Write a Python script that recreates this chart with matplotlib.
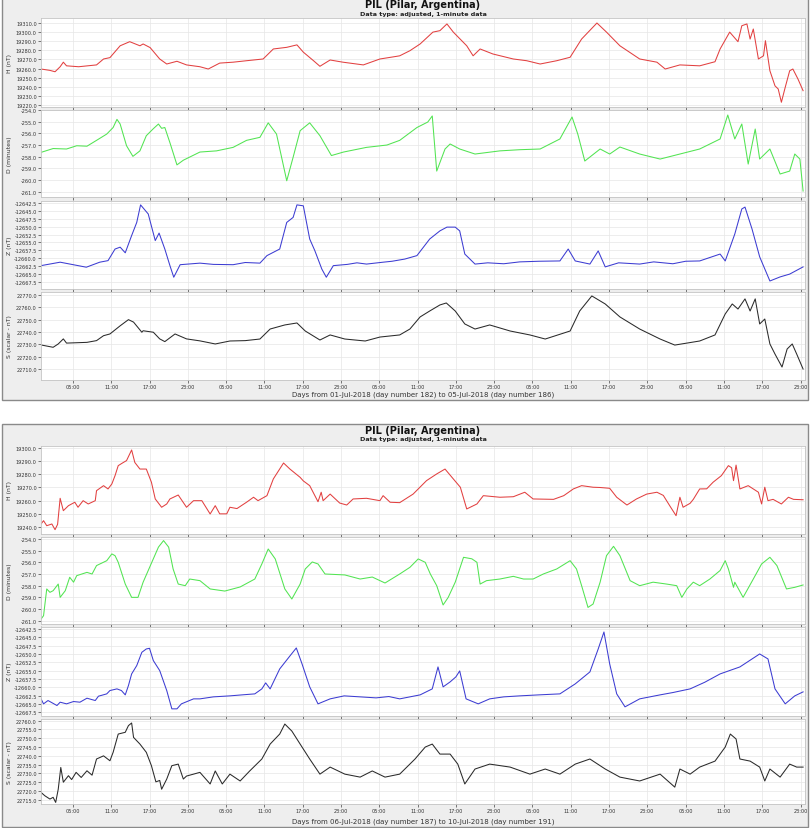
import matplotlib
matplotlib.use('Agg')
import matplotlib.pyplot as plt
from matplotlib.patches import Rectangle
from matplotlib.ticker import FormatStrFormatter
import numpy as np

plt.rcParams['axes.unicode_minus'] = False
plt.rcParams['font.family'] = ['DejaVu Sans']

W, H = 811, 829

# eixo x: horas a partir do primeiro dia
xticks = [5 + 6 * i for i in range(20)]
xtick_labels = ['05:00', '11:00', '17:00', '23:00'] * 5

title = 'PIL (Pilar, Argentina)'
subtitle = 'Data type: adjusted, 1-minute data'
xlabel_1 = 'Days from 01-Jul-2018 (day number 182) to 05-Jul-2018 (day number 186)'
xlabel_2 = 'Days from 06-Jul-2018 (day number 187) to 10-Jul-2018 (day number 191)'
ylabels = ['H (nT)', 'D (minutes)', 'Z (nT)', 'S (scalar - nT)']

## 01-05 jul (hora, valor)
h1 = [(0, 19259.5), (1.4, 19258), (2.2, 19256.5), (3, 19262), (3.5, 19267), (4, 19263), (5.9, 19262),
      (8.7, 19264), (9.8, 19270.5), (10.8, 19272), (12.4, 19285), (13.9, 19289.5), (15.5, 19285),
      (16, 19287), (17.1, 19283), (18.6, 19270.5), (19.7, 19265), (21.3, 19268), (22.8, 19264),
      (24.9, 19262), (26.2, 19259.5), (28, 19266), (30.1, 19267), (32.2, 19268.6), (34.8, 19270.5),
      (36.4, 19281.5), (38.5, 19283.3), (40.1, 19286), (41.1, 19278), (42.7, 19268.6), (43.7, 19262.5),
      (45.3, 19269.4), (47.3, 19267), (50.5, 19264), (53.1, 19270.5), (55.7, 19273.4), (56.2, 19274),
      (57.8, 19279.6), (59.4, 19287), (61.4, 19300), (62.5, 19301.6), (63.6, 19309), (64.6, 19300),
      (66.7, 19285), (67.7, 19274), (68.8, 19281.5), (70.8, 19276), (74, 19270.5), (76.1, 19268.6),
      (78.2, 19265), (80.8, 19268.6), (82.9, 19272.4), (84.7, 19292.4), (87.1, 19310), (88.6, 19300),
      (90.7, 19285), (93.8, 19270.5), (96.5, 19267), (97.8, 19259.5), (100.1, 19264), (103.2, 19263),
      (105.6, 19267.5), (106.4, 19281.5), (107.9, 19300), (109.2, 19289.5), (109.8, 19307),
      (110.6, 19309), (111.1, 19292.4), (111.6, 19303.4), (112.4, 19270.5), (113.2, 19274),
      (113.5, 19290.6), (114.2, 19257.6), (115, 19241), (115.5, 19237.6), (116, 19223),
      (116.6, 19239.4), (117.3, 19257.6), (117.8, 19259.5), (118.6, 19248.5), (119.4, 19235.7)]

d1 = [(0, -257.63), (1.9, -257.3), (4, -257.34), (5.6, -257.06), (7.2, -257.1), (8.7, -256.6),
      (10.3, -256.06), (11.3, -255.5), (11.9, -254.8), (12.4, -255.2), (13.4, -257.06), (14.4, -257.97),
      (15.5, -257.5), (16.5, -256.2), (17.6, -255.6), (18.4, -255.2), (18.9, -255.57), (19.4, -255.5),
      (20.2, -256.8), (21.3, -258.7), (22.3, -258.3), (24.9, -257.6), (27.5, -257.5), (30.1, -257.2),
      (32.2, -256.6), (34.3, -256.34), (35.6, -255.1), (36.9, -256.06), (38.5, -260.06), (39.5, -258.05),
      (40.6, -255.77), (42.1, -255.1), (43.7, -256.2), (45.5, -257.9), (47.4, -257.6), (51, -257.2),
      (54.2, -257.0), (56.2, -256.6), (58.9, -255.5), (60.6, -255.03), (61.3, -254.51), (62.0, -259.23),
      (63.3, -257.34), (64.1, -256.91), (65.6, -257.34), (68.0, -257.77), (71.9, -257.5), (75, -257.4),
      (78.2, -257.34), (81.3, -256.48), (83.2, -254.6), (84.1, -256.06), (85.2, -258.37), (87.6, -257.34),
      (89.1, -257.77), (90.7, -257.17), (93.8, -257.77), (97, -258.2), (100.1, -257.77), (103.2, -257.34),
      (106.4, -256.48), (107.6, -254.43), (108.7, -256.48), (109.8, -255.2), (110.8, -258.63),
      (111.9, -255.63), (112.6, -258.2), (114.2, -257.34), (115.8, -259.48), (117.3, -259.23),
      (118.1, -257.77), (118.9, -258.2), (119.4, -260.94)]

z1 = [(0, -12662.4), (3, -12661.3), (7.1, -12662.9), (9.2, -12661.3), (10.5, -12660.8), (11.6, -12657.1),
      (12.4, -12656.5), (13.2, -12658.3), (14.2, -12652.8), (15, -12648.6), (15.6, -12643.0),
      (16.8, -12645.9), (17.9, -12654.4), (18.5, -12652.0), (19.4, -12657.1), (20.2, -12662.4),
      (20.8, -12666.1), (21.8, -12662.1), (24.9, -12661.6), (27, -12662.0), (30.1, -12662.1),
      (32, -12661.4), (34.3, -12661.6), (35.4, -12659.2), (37.4, -12657.1), (38.5, -12648.6),
      (39.5, -12647.0), (40.1, -12643.0), (41.1, -12643.3), (42.1, -12653.9), (42.9, -12657.6),
      (44, -12663.5), (44.7, -12666.1), (45.8, -12662.4), (48, -12662.0), (49.5, -12661.5),
      (51, -12661.9), (53.6, -12661.3), (55, -12661.0), (57, -12660.3), (58.9, -12659.2),
      (60.9, -12653.9), (62.5, -12651.3), (63.6, -12650.1), (64.9, -12650.1), (65.6, -12651.3),
      (66.4, -12658.7), (68.0, -12661.9), (70, -12661.5), (72.5, -12661.8), (75, -12661.2),
      (78, -12661.0), (81.3, -12660.9), (82.6, -12657.1), (83.7, -12660.9), (86, -12661.9),
      (87.3, -12657.7), (88.4, -12662.8), (90.5, -12661.5), (93.8, -12661.9), (96, -12661.2),
      (99, -12661.8), (101, -12661.0), (103.2, -12660.9), (106.4, -12658.7), (107.2, -12660.9),
      (108.7, -12652.3), (109.8, -12644.3), (110.3, -12643.7), (111.4, -12650.7), (112.6, -12659.6),
      (114.2, -12667.3), (115.8, -12666), (117.3, -12665.1), (119.4, -12662.8)]

s1 = [(0, 22729.5), (1.9, 22727.6), (2.7, 22730.3), (3.5, 22734.4), (4, 22731), (7.2, 22731.6),
      (8.7, 22733), (9.8, 22737), (10.8, 22738.4), (12.4, 22745), (13.7, 22750), (14.5, 22748),
      (15.8, 22739.8), (16, 22741), (17.6, 22739.8), (18.6, 22734.4), (19.4, 22732.2), (21, 22738.4),
      (22.8, 22734.4), (24.9, 22732.8), (27.3, 22730.3), (29.6, 22732.7), (32, 22733.0), (34.3, 22734.3),
      (35.9, 22742.4), (38.2, 22745.7), (40.1, 22747.3), (41.4, 22740.8), (43.7, 22733.5),
      (45.3, 22737.6), (47.6, 22734.3), (50.8, 22732.7), (53.1, 22735.9), (56.2, 22737.6),
      (57.8, 22742.4), (59.4, 22752.2), (60.9, 22757), (62.5, 22761.9), (63.5, 22763.5), (64.9, 22757),
      (66.4, 22746.5), (68, 22742.4), (70.3, 22745.7), (73.5, 22740.8), (76.6, 22737.6), (79, 22734.3),
      (82.9, 22740.8), (84.4, 22757), (86.3, 22769.2), (88.4, 22762.7), (90.7, 22752.2), (93.8, 22742.4),
      (97, 22734.3), (99.3, 22729.4), (103.2, 22732.7), (105.6, 22737.6), (107.2, 22754.6),
      (108.3, 22762.7), (109.2, 22758.6), (110.3, 22766.8), (111.1, 22757), (111.9, 22766.8),
      (112.6, 22746.5), (113.4, 22750.5), (114.2, 22730.3), (115, 22722.1), (116.1, 22711.6),
      (116.9, 22726.2), (117.7, 22730.3), (118.4, 22722.1), (119.4, 22710)]

## 06-10 jul
h2 = [(0, 19242.3), (0.4, 19244.8), (0.9, 19241), (1.7, 19242.3), (2.2, 19238), (2.6, 19242),
      (3, 19261.8), (3.5, 19252.4), (4.3, 19256.2), (5.3, 19258.8), (5.8, 19255), (6.6, 19260),
      (7.4, 19257.5), (8.5, 19260), (8.7, 19267.6), (9.8, 19271.4), (10.5, 19268.9), (11.1, 19272.7),
      (11.6, 19279), (12.1, 19286.6), (12.9, 19289), (13.4, 19290.4), (14.2, 19298.5), (14.7, 19289),
      (15.5, 19284), (16.5, 19284), (17.3, 19274), (17.9, 19261.3), (18.9, 19255), (19.7, 19257.5),
      (20.2, 19261.3), (21.5, 19264.3), (22.8, 19255), (23.9, 19260), (25.2, 19260), (26.5, 19249.9),
      (27.3, 19256.2), (28, 19250), (29.1, 19250), (29.6, 19255), (30.7, 19254), (32.2, 19258.8),
      (33.3, 19262.6), (34, 19260), (35.4, 19263.8), (36.4, 19276.5), (38, 19288.6), (39, 19284),
      (40.6, 19277.7), (41.1, 19275), (42.1, 19271.4), (43.4, 19259.2), (43.9, 19266.4), (44.2, 19260),
      (45.3, 19265), (46.8, 19258.2), (47.9, 19256.7), (48.9, 19261.3), (51, 19261.8), (53.1, 19260),
      (53.6, 19263.8), (54.7, 19258.8), (56.2, 19258.5), (58.3, 19265), (60.4, 19275.2), (62, 19280.3),
      (63.3, 19284), (64.6, 19276.5), (65.7, 19270.2), (66.7, 19253.7), (68.3, 19257.5), (69.3, 19263.8),
      (71.9, 19262.6), (74, 19263), (75.8, 19266.4), (77.1, 19261.3), (80.3, 19261), (81.9, 19263.8),
      (83.4, 19268.9), (84.7, 19271.4), (86.5, 19270.2), (87.6, 19270), (89.1, 19269.4), (90.2, 19262.6),
      (91.8, 19256.7), (93.3, 19261.3), (94.9, 19265), (96.5, 19266.4), (97.5, 19264), (98.5, 19256.2),
      (99.5, 19248.6), (100.1, 19262.6), (100.6, 19255), (101.7, 19258), (102.2, 19261),
      (103.2, 19268.9), (104.3, 19269), (105.3, 19274), (106.6, 19279), (107.7, 19286.6), (108.2, 19285),
      (108.5, 19275.2), (108.9, 19287), (109.5, 19268.9), (110.8, 19271.4), (112.4, 19266.4),
      (112.9, 19257.5), (113.4, 19270.2), (113.9, 19260), (114.7, 19261), (116, 19257.5),
      (117.1, 19262.6), (117.9, 19261), (119.4, 19260.7)]

d2 = [(0, -260.86), (0.4, -260.57), (0.9, -258.28), (1.4, -258.57), (1.9, -258.43), (2.7, -257.86),
      (3, -259), (3.8, -258.43), (4.5, -257.28), (5.1, -257.7), (5.6, -257.14), (7.2, -256.86), (8, -257),
      (8.7, -256.28), (10.3, -255.86), (11.1, -255.28), (11.6, -255.43), (12.1, -256), (13.2, -257.86),
      (14.2, -259), (15.2, -259), (16, -257.7), (17.6, -255.7), (18.4, -254.7), (19.2, -254.14),
      (20, -254.7), (20.7, -256.57), (21.5, -257.86), (22.6, -258), (23.3, -257.43), (24.9, -257.57),
      (26.5, -258.28), (28.8, -258.46), (31.2, -258.11), (33.5, -257.43), (34.6, -256.14),
      (35.6, -254.86), (36.7, -255.71), (38.2, -258.28), (39.3, -259.14), (40.6, -257.86),
      (41.4, -256.57), (42.5, -255.97), (43.4, -256.14), (44.5, -257), (47.6, -257.08), (50, -257.43),
      (51.9, -257.26), (53.9, -257.77), (56.2, -257.0), (57.8, -256.43), (59.1, -255.71), (60.2, -256),
      (61, -257), (62, -258), (63, -259.65), (63.8, -259), (64.9, -257.7), (66.2, -255.57),
      (67.5, -255.7), (68.3, -256), (68.8, -257.86), (69.8, -257.57), (71.9, -257.43), (74, -257.2),
      (75.6, -257.43), (77.1, -257.43), (78.7, -257), (80.8, -256.57), (82.9, -255.86), (83.9, -256.57),
      (84.7, -258), (85.7, -259.86), (86.5, -259.57), (87.6, -257.7), (88.6, -255.43), (89.7, -254.63),
      (90.7, -255.43), (92.3, -257.57), (93.8, -258), (95.9, -257.7), (98, -257.86), (99.6, -258),
      (100.4, -259), (101.2, -258.28), (102.2, -257.7), (103.2, -258), (104.8, -257.43), (106.4, -256.7),
      (107.2, -255.86), (107.7, -256.57), (108.5, -258.14), (108.7, -257.7), (110, -259),
      (111.6, -257.43), (112.9, -256.14), (114.2, -255.57), (115.3, -256.28), (116.8, -258.28),
      (118.1, -258.14), (119.4, -257.94)]

z2 = [(0, -12663.5), (0.4, -12665), (1.1, -12664), (2.5, -12665.5), (3, -12664.5), (4, -12665),
      (5.1, -12664.3), (6.1, -12664.5), (7.2, -12663.3), (8.5, -12664), (9, -12662.7), (10.3, -12662),
      (10.8, -12661), (11.9, -12660.5), (12.6, -12661), (13.2, -12662.3), (13.7, -12659.5),
      (14.2, -12656), (15, -12653.5), (15.8, -12649.5), (16.5, -12648.5), (17, -12648.3),
      (17.6, -12652), (18.6, -12655), (19.7, -12661), (20.5, -12666.5), (21.3, -12666.5), (22, -12665),
      (23.9, -12663.5), (24.9, -12663.5), (27, -12662.9), (29.6, -12662.6), (31.5, -12662.3),
      (33.5, -12662), (34.6, -12660.5), (35.2, -12658.7), (35.9, -12660.5), (37.4, -12654.5),
      (39, -12650.6), (40, -12648.2), (40.9, -12653), (42.1, -12659.9), (43.4, -12665), (45.3, -12663.5),
      (47.5, -12662.6), (50, -12662.9), (52.5, -12663.2), (54.5, -12662.8), (56.2, -12663.5),
      (59.4, -12662.3), (61.3, -12660.5), (62.2, -12653.9), (63, -12659.9), (64.1, -12658.4),
      (65, -12656.9), (65.6, -12655.1), (66.6, -12663.5), (68.5, -12665), (70.3, -12663.5),
      (72.5, -12662.9), (75, -12662.6), (78, -12662.3), (81.3, -12662), (83.7, -12659), (86, -12655.4),
      (87.3, -12648.5), (88.2, -12643.4), (89.1, -12653), (90.2, -12662), (91.5, -12665.9),
      (93.8, -12663.5), (97, -12662.3), (99, -12661.6), (101.7, -12660.5), (104, -12658.5),
      (106.4, -12656), (109.5, -12653.9), (112.6, -12650), (113.9, -12651.5), (115, -12660.5),
      (116.6, -12665), (118.1, -12662.6), (119.4, -12661.4)]

s2 = [(0, 22719.2), (0.6, 22717.3), (1.4, 22715.4), (1.9, 22716.4), (2.3, 22713.5), (2.7, 22721),
      (3.1, 22733.4), (3.5, 22725), (4.3, 22728.7), (4.8, 22726.5), (5.5, 22730.6), (6.3, 22727.7),
      (7.2, 22731.5), (8, 22729), (8.7, 22738.2), (9.8, 22740), (10.8, 22737.2), (11.3, 22742),
      (12.1, 22752.4), (13.2, 22753.4), (13.7, 22757.2), (14.2, 22758.7), (14.5, 22750.5),
      (15.5, 22746.7), (16.5, 22742), (17.3, 22734.4), (18, 22725.2), (18.6, 22726), (18.9, 22721),
      (19.7, 22726.8), (20.5, 22734.4), (21.5, 22735.3), (22.3, 22726.8), (22.8, 22728.5),
      (23.9, 22729.6), (24.9, 22730.6), (26.5, 22724), (27.3, 22731.4), (28.4, 22724), (29.6, 22729.6),
      (31.2, 22725.7), (32.7, 22731.4), (34.6, 22738.2), (35.9, 22746.7), (37.4, 22752.4),
      (38.2, 22758.1), (39.3, 22754.1), (40.6, 22746.7), (42.1, 22738.2), (43.7, 22729.6),
      (45.3, 22733.6), (47.6, 22729.6), (50, 22727.9), (51.9, 22731.4), (53.9, 22727.9), (56.2, 22729.6),
      (58.6, 22738.2), (60.2, 22745), (61.3, 22746.7), (62.5, 22741), (64.1, 22741), (65.3, 22735.3),
      (66.4, 22724), (68, 22732.5), (70.3, 22735.3), (73.5, 22733.6), (76.6, 22729.6), (79, 22732.5),
      (81.3, 22729.6), (83.7, 22735.3), (86, 22738.2), (88.4, 22732.5), (90.7, 22727.9), (93.8, 22725.7),
      (97, 22729.6), (99.3, 22722.2), (100.1, 22732.5), (101.7, 22729.6), (103.2, 22733.6),
      (105.6, 22737), (107.2, 22745), (108, 22752.4), (108.9, 22749.6), (109.5, 22738.2),
      (111.1, 22737), (112.6, 22733.6), (113.4, 22725.7), (114.2, 22732.5), (115.8, 22727.9),
      (117.3, 22735.3), (118.4, 22733.6), (119.4, 22733.6)]

cores = ['#e24040', '#52e452', '#3c3cd2', '#2a2a2a']

yticks_1 = [np.arange(19220, 19311, 10), np.arange(-261, -253.5, 1),
            np.arange(-12667.5, -12642, 2.5), np.arange(22710, 22771, 10)]
ylims_1 = [(19217.8, 19315.5), (-261.45, -254.0), (-12669.7, -12641.6), (22701.1, 22772.8)]
yticks_2 = [np.arange(19240, 19301, 10), np.arange(-261, -253.5, 1),
            np.arange(-12667.5, -12642, 2.5), np.arange(22715, 22761, 5)]
ylims_2 = [(19234.7, 19301.5), (-261.28, -253.79), (-12668.5, -12641.75), (22712.6, 22761.25)]

blocos = [
    dict(series=[h1, d1, z1, s1], yticks=yticks_1, ylims=ylims_1, xlabel=xlabel_1,
         box=(-2, 401), title_y=5.5, sub_y=14.5, xlab_y=394.5,
         rows=[(19, 108), (111, 198), (201.5, 289.5), (292.5, 381)]),
    dict(series=[h2, d2, z2, s2], yticks=yticks_2, ylims=ylims_2, xlabel=xlabel_2,
         box=(425, 828), title_y=431.5, sub_y=440, xlab_y=822,
         rows=[(447, 535), (537.5, 625), (627.5, 716.5), (719.5, 805)]),
]

X0, X1 = 41, 805

fig = plt.figure(figsize=(W / 100, H / 100), dpi=100)
fig.patch.set_facecolor('white')

for b in blocos:
    top, bot = b['box']
    fig.patches.append(Rectangle((2 / W, 1 - bot / H), 806 / W, (bot - top) / H,
                                 transform=fig.transFigure, facecolor='#eeeeee',
                                 edgecolor='#8a8a8a', lw=1.0, zorder=-5))
    fig.text(423 / W, 1 - b['title_y'] / H, title, ha='center', va='center',
             fontsize=7, fontweight='bold', color='#111111')
    fig.text(423 / W, 1 - b['sub_y'] / H, subtitle, ha='center', va='center',
             fontsize=4.6, fontweight='bold', color='#222222')
    fig.text(423 / W, 1 - b['xlab_y'] / H, b['xlabel'], ha='center', va='center',
             fontsize=5, color='#333333')

    for i, (y0, y1) in enumerate(b['rows']):
        ax = fig.add_axes([X0 / W, 1 - y1 / H, (X1 - X0) / W, (y1 - y0) / H])
        ax.set_facecolor('white')
        t, v = np.array(b['series'][i]).T
        ax.plot(t, v, color=cores[i], lw=0.75)
        ax.set_xlim(0, 119.7)
        ax.set_ylim(*b['ylims'][i])
        ax.set_yticks(b['yticks'][i])
        ax.yaxis.set_major_formatter(FormatStrFormatter('%.1f'))
        ax.set_xticks(xticks)
        if i == 3:
            ax.set_xticklabels(xtick_labels)
        else:
            ax.set_xticklabels([])
        ax.tick_params(axis='both', labelsize=3.6, length=2, width=0.5, pad=1,
                       colors='#444444', labelcolor='#333333')
        ax.grid(True, color='#e6e6e6', lw=0.5)
        ax.set_axisbelow(True)
        for sp in ax.spines.values():
            sp.set_color('#c4c4c4')
            sp.set_linewidth(0.6)
        fig.text(10 / W, 1 - (y0 + y1) / 2 / H, ylabels[i], rotation=90,
                 ha='center', va='center', fontsize=4.4, color='#333333')

fig.savefig('out.png', dpi=100)
